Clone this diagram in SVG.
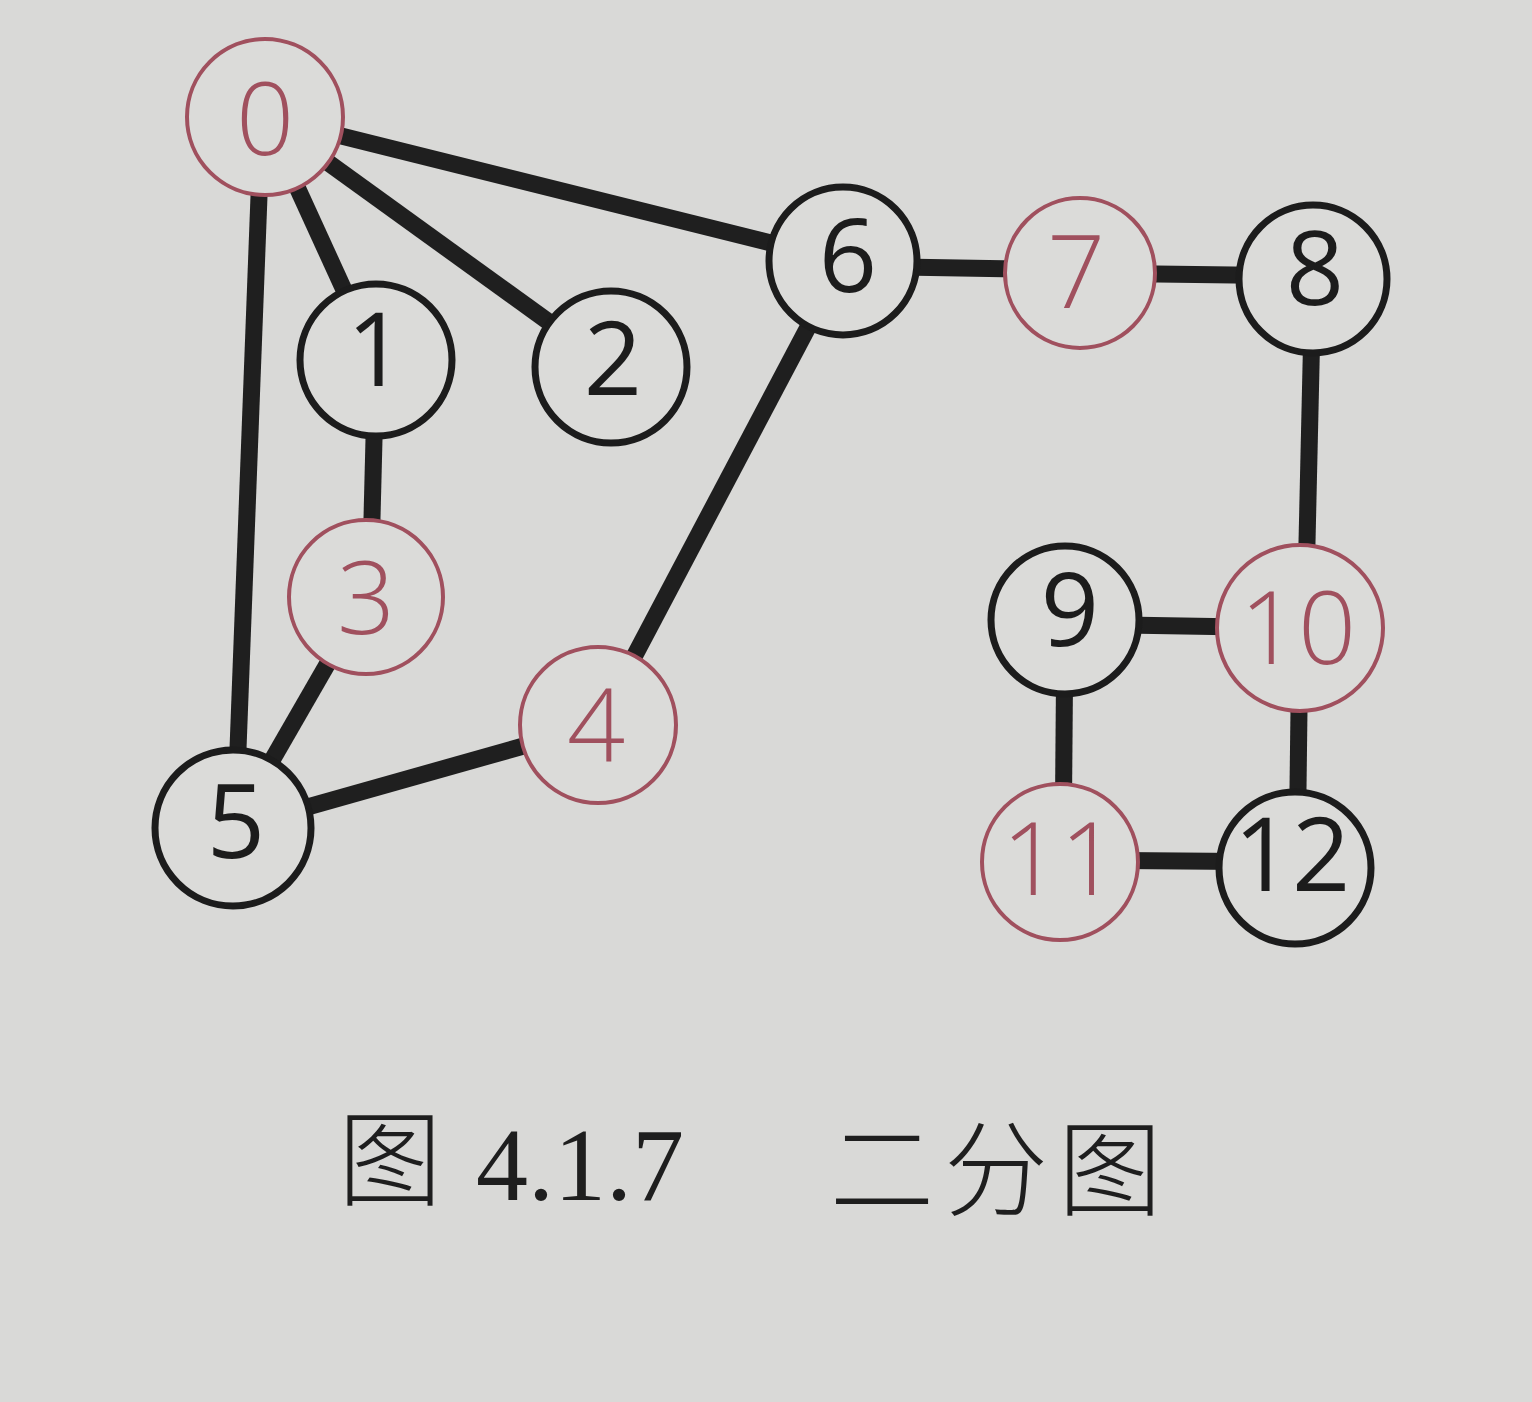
<svg xmlns="http://www.w3.org/2000/svg" width="1532" height="1402" viewBox="0 0 1532 1402">
<defs>
<style>
.bg{fill:#d9d9d7}
.edge{stroke:#1f1f1f;stroke-width:17;stroke-linecap:butt;fill:none}
.nb circle{fill:#dbdbd9;stroke:#1c1c1c;stroke-width:7}
.nr circle{fill:#dbdbd9;stroke:#a0505e;stroke-width:4}
.nb text{fill:#1c1c1c;font-weight:400}
.nr text{fill:#a0505e;font-weight:300}
text.lbl{font-family:"Open Sans","Noto Sans",sans-serif;font-size:102px;text-anchor:middle}
.cap{font-family:"Liberation Serif","Noto Sans CJK SC",serif;font-size:104px;fill:#1e1e1e}
.capc{font-family:"Noto Sans CJK SC",serif;font-weight:300;font-size:104px;fill:#1e1e1e}
</style>
</defs>
<rect class="bg" x="0" y="0" width="1532" height="1402"/>
<g id="edges">
<line class="edge" x1="265" y1="117" x2="376" y2="360"/>
<line class="edge" x1="265" y1="117" x2="611" y2="367"/>
<line class="edge" x1="262" y1="117" x2="235" y2="828"/>
<line class="edge" x1="265" y1="117" x2="843" y2="261"/>
<line class="edge" x1="376" y1="360" x2="370" y2="597"/>
<line class="edge" x1="366" y1="597" x2="233" y2="828"/>
<line class="edge" x1="598" y1="725" x2="233" y2="828"/>
<line class="edge" x1="598" y1="725" x2="843" y2="261"/>
<line class="edge" x1="843" y1="266" x2="1080" y2="270"/>
<line class="edge" x1="1080" y1="273" x2="1313" y2="276"/>
<line class="edge" x1="1313" y1="279" x2="1305" y2="630"/>
<line class="edge" x1="1065" y1="624" x2="1300" y2="628"/>
<line class="edge" x1="1065" y1="620" x2="1063" y2="862"/>
<line class="edge" x1="1300" y1="630" x2="1297" y2="868"/>
<line class="edge" x1="1060" y1="860" x2="1295" y2="862"/>
</g>
<g id="n0" class="nr"><circle cx="265" cy="117" r="78"/><text class="lbl" x="265" y="155">0</text></g>
<g id="n1" class="nb"><circle cx="376" cy="360" r="76"/><text class="lbl" x="376" y="386">1</text></g>
<g id="n2" class="nb"><circle cx="611" cy="367" r="76"/><text class="lbl" x="613" y="395">2</text></g>
<g id="n3" class="nr"><circle cx="366" cy="597" r="77"/><text class="lbl" x="366" y="634">3</text></g>
<g id="n4" class="nr"><circle cx="598" cy="725" r="78"/><text class="lbl" x="596" y="762">4</text></g>
<g id="n5" class="nb"><circle cx="233" cy="828" r="78"/><text class="lbl" x="236" y="858">5</text></g>
<g id="n6" class="nb"><circle cx="843" cy="261" r="74"/><text class="lbl" x="848" y="292">6</text></g>
<g id="n7" class="nr"><circle cx="1080" cy="273" r="75"/><text class="lbl" x="1076" y="308">7</text></g>
<g id="n8" class="nb"><circle cx="1313" cy="279" r="74"/><text class="lbl" x="1315" y="305">8</text></g>
<g id="n9" class="nb"><circle cx="1065" cy="620" r="74"/><text class="lbl" x="1070" y="646">9</text></g>
<g id="n10" class="nr"><circle cx="1300" cy="628" r="83"/><text class="lbl" x="1298" y="664">10</text></g>
<g id="n11" class="nr"><circle cx="1060" cy="862" r="78"/><text class="lbl" x="1060" y="895">11</text></g>
<g id="n12" class="nb"><circle cx="1295" cy="868" r="76"/><text class="lbl" x="1292" y="891">12</text></g>
<g id="caption">
<text class="capc" x="338" y="1198">图</text>
<text class="cap" x="476" y="1200">4.1.7</text>
<text class="capc" x="830" y="1208" letter-spacing="10">二分图</text>
</g>
</svg>
